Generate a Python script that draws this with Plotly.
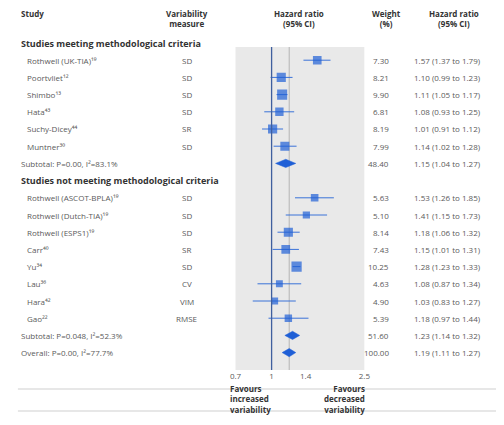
import plotly.graph_objects as go

# ---------------- data ----------------
studies = ["Rothwell (UK-TIA)", "Poortvliet", "Shimbo", "Hata", "Suchy-Dicey", "Muntner",
           "Rothwell (ASCOT-BPLA)", "Rothwell (Dutch-TIA)", "Rothwell (ESPS1)", "Carr", "Yu",
           "Lau", "Hara", "Gao"]
refs = ["19", "12", "13", "43", "44", "30", "19", "19", "19", "40", "34", "36", "42", "22"]
measures = ["SD", "SD", "SD", "SD", "SR", "SD", "SD", "SD", "SD", "SR", "SD", "CV", "VIM", "RMSE"]
hr = [1.57, 1.10, 1.11, 1.08, 1.01, 1.14, 1.53, 1.41, 1.18, 1.15, 1.28, 1.08, 1.03, 1.18]
lo = [1.37, 0.99, 1.05, 0.93, 0.91, 1.02, 1.26, 1.15, 1.06, 1.01, 1.23, 0.87, 0.83, 0.97]
hi = [1.79, 1.23, 1.17, 1.25, 1.12, 1.28, 1.85, 1.73, 1.32, 1.31, 1.33, 1.34, 1.27, 1.44]
weights = [7.30, 8.21, 9.90, 6.81, 8.19, 7.99, 5.63, 5.10, 8.14, 7.43, 10.25, 4.63, 4.90, 5.39]
study_rows = [1, 2, 3, 4, 5, 6, 9, 10, 11, 12, 13, 14, 15, 16]

group_labels = ["Studies meeting methodological criteria", "Studies not meeting methodological criteria"]
group_rows = [0, 8]

pooled_labels = ["Subtotal: P=0.00, I²=83.1%", "Subtotal: P=0.048, I²=52.3%",
                 "Overall: P=0.00, I²=77.7%"]
pooled_hr = [1.15, 1.23, 1.19]
pooled_lo = [1.04, 1.14, 1.11]
pooled_hi = [1.27, 1.32, 1.27]
pooled_w = [48.40, 51.60, 100.00]
pooled_rows = [7, 17, 18]

tick_vals = [0.7, 1, 1.4, 2.5]
tick_text = ["0.7", "1", "1.4", "2.5"]

# ---------------- layout helpers ----------------
OFF = 8                      # page body margin
W, H = 504 - OFF, 425 - OFF  # figure size
ROW0, ROWH = 43.0, 17.2      # page-pixel y of row 0, row height
SUP = str.maketrans("0123456789", "⁰¹²³⁴⁵⁶⁷⁸⁹")


def px(p):          # page pixel x -> paper x
    return (p - OFF) / W


def py(p):          # page pixel y -> paper y
    return 1 - (p - OFF) / H


def rowpix(r):
    return ROW0 + ROWH * r


def row_of(p):
    return (p - ROW0) / ROWH


BLUE = "#1f5fd6"
TXT = "#5a5a5a"
HDR = "#333333"
FONT = "Open Sans"

fig = go.Figure()

for r, l, h in zip(study_rows, lo, hi):
    fig.add_trace(go.Scatter(x=[l, h], y=[r, r], mode="lines",
                             line=dict(color="#3a72d8", width=1), hoverinfo="skip", showlegend=False))
fig.add_trace(go.Scatter(x=hr, y=study_rows, mode="markers",
                         marker=dict(symbol="square", color=BLUE,
                                     size=[3.2 * w ** 0.5 for w in weights], line=dict(width=0)),
                         showlegend=False))
for r, e, l, h in zip(pooled_rows, pooled_hr, pooled_lo, pooled_hi):
    fig.add_trace(go.Scatter(x=[l, e, h, e, l], y=[r, r - 0.24, r, r + 0.24, r], mode="lines",
                             fill="toself", fillcolor=BLUE, line=dict(color=BLUE, width=0.5),
                             showlegend=False))

fig.add_shape(type="rect", xref="x domain", yref="y domain", x0=0, x1=1, y0=0, y1=1,
              fillcolor="#e9e9e9", line=dict(width=0), layer="below")
fig.add_shape(type="line", xref="x", yref="y domain", x0=pooled_hr[2], x1=pooled_hr[2], y0=0, y1=1,
              line=dict(color="#b5b5b5", width=1), layer="below")
fig.add_shape(type="line", xref="x", yref="y domain", x0=1, x1=1, y0=0, y1=1,
              line=dict(color="#3f5f9e", width=1.3))

for p in (389, 411):
    fig.add_shape(type="line", xref="paper", yref="paper", x0=px(12), x1=1, y0=py(p), y1=py(p),
                  line=dict(color="#cfcfcf", width=1), layer="below")

ann = []


def txt(x, y, s, anchor="left", size=8, color=TXT, bold=False, yanchor="middle"):
    if bold:
        s = "<b>" + s + "</b>"
    ann.append(dict(x=px(x), y=py(y), xref="paper", yref="paper", text=s, showarrow=False,
                    xanchor=anchor, yanchor=yanchor, align=anchor,
                    font=dict(family=FONT, size=size, color=color)))


txt(13, 13, "Study", bold=True, color=HDR)
txt(185, 19, "Variability<br>measure", anchor="center", bold=True, color=HDR)
txt(300, 19, "Hazard ratio<br>(95% CI)", anchor="center", bold=True, color=HDR)
txt(390, 19, "Weight<br>(%)", anchor="center", bold=True, color=HDR)
txt(459, 19, "Hazard ratio<br>(95% CI)", anchor="center", bold=True, color=HDR)

for lab, r in zip(group_labels, group_rows):
    txt(13, rowpix(r), lab, bold=True, color=HDR, size=9)

for name, ref, m, w, e, l, h, r in zip(studies, refs, measures, weights, hr, lo, hi, study_rows):
    txt(19, rowpix(r), name + ref.translate(SUP))
    txt(185, rowpix(r), m, anchor="center")
    txt(394, rowpix(r), f"{w:.2f}", anchor="right")
    txt(416, rowpix(r), f"{e:.2f} ({l:.2f} to {h:.2f})")

for lab, w, e, l, h, r in zip(pooled_labels, pooled_w, pooled_hr, pooled_lo, pooled_hi, pooled_rows):
    txt(13, rowpix(r), lab)
    txt(394, rowpix(r), f"{w:.2f}", anchor="right")
    txt(416, rowpix(r), f"{e:.2f} ({l:.2f} to {h:.2f})")

txt(227, 381, "Favours<br>increased<br>variability", anchor="left", bold=True, color=HDR, yanchor="top")
txt(370, 381, "Favours<br>decreased<br>variability", anchor="right", bold=True, color=HDR, yanchor="top")

fig.update_layout(
    width=W, height=H, margin=dict(l=0, r=0, t=0, b=0),
    paper_bgcolor="white", plot_bgcolor="rgba(0,0,0,0)",
    annotations=ann, showlegend=False,
    font=dict(family=FONT, size=8, color=TXT),
    xaxis=dict(type="log", domain=[px(235), px(367)], range=[-0.1549, 0.3979],
               tickvals=tick_vals, ticktext=tick_text, showgrid=False, zeroline=False,
               showline=False, ticks="", tickfont=dict(family=FONT, size=8, color=TXT),
               fixedrange=True),
    yaxis=dict(domain=[py(370), py(47)], range=[row_of(370), row_of(47)],
               visible=False, fixedrange=True),
)

fig.write_html("out.html")
